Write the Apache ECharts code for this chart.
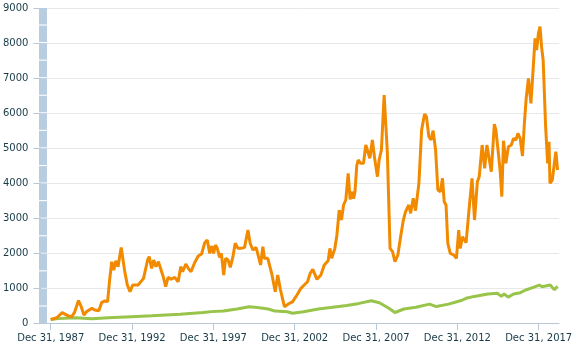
<!DOCTYPE html>
<html>
<head>
<meta charset="utf-8">
<script src="https://cdn.jsdelivr.net/npm/echarts@6/dist/echarts.min.js"></script>
<style>
  html, body { margin: 0; padding: 0; background: #fff; }
  #chart { width: 582px; height: 350px; }
</style>
</head>
<body>
<div id="chart"></div>
<script>
// Growth of 100, two series sampled at irregular dates
const orangeDates = [
  '1987-12-31','1988-05-15','1988-09-15','1989-01-15','1989-04-15','1989-06-15','1989-09-15','1989-11-15',
  '1990-01-15','1990-03-15','1990-07-15','1990-09-15','1990-12-15','1991-02-15','1991-05-01','1991-07-01',
  '1991-08-15','1991-10-01','1991-11-15','1992-01-01','1992-02-20','1992-05-01','1992-07-15','1992-09-15',
  '1992-11-15','1993-01-15','1993-05-15','1993-09-15','1993-12-15','1994-01-20','1994-03-15','1994-05-01',
  '1994-06-20','1994-08-15','1994-10-01','1994-12-01','1995-01-25','1995-03-20','1995-06-01','1995-08-15',
  '1995-11-01','1995-12-28','1996-02-10','1996-04-20','1996-06-15','1996-08-15','1996-11-05','1997-01-25',
  '1997-04-10','1997-06-20','1997-08-15','1997-10-10','1997-11-25','1998-01-05','1998-02-15','1998-03-28',
  '1998-05-20','1998-06-28','1998-08-20','1998-10-01','1998-11-25','1999-01-15','1999-03-15','1999-05-05',
  '1999-07-05','1999-09-15','1999-12-01','2000-02-15','2000-04-05','2000-06-05','2000-08-15','2000-09-10',
  '2000-11-25','2001-01-15','2001-02-20','2001-05-05','2001-08-01','2001-10-20','2001-12-15','2002-02-15',
  '2002-05-15','2002-08-10','2002-11-15','2003-02-20','2003-05-20','2003-08-01','2003-10-15','2003-12-15',
  '2004-02-10','2004-03-15','2004-05-15','2004-08-10','2004-10-25','2005-01-20','2005-02-28','2005-04-10',
  '2005-06-20','2005-08-05','2005-09-25','2005-11-15','2006-01-01','2006-02-20','2006-04-15','2006-05-28',
  '2006-07-20','2006-08-15','2006-09-15','2006-10-25','2006-11-25','2007-01-20','2007-03-25','2007-05-15',
  '2007-06-20','2007-08-15','2007-10-10','2007-11-30','2008-02-01','2008-03-10','2008-04-30','2008-06-30',
  '2008-09-10','2008-11-10','2009-01-05','2009-02-28','2009-05-05','2009-07-05','2009-09-05','2009-10-25',
  '2010-01-05','2010-02-15','2010-04-15','2010-06-05','2010-08-20','2010-10-20','2010-12-25','2011-02-05',
  '2011-04-01','2011-05-20','2011-07-05','2011-08-30','2011-10-20','2011-12-15','2012-02-01','2012-03-10',
  '2012-04-20','2012-05-30','2012-07-25','2012-10-10','2012-12-10','2013-01-30','2013-03-05','2013-04-25',
  '2013-07-15','2013-09-25','2013-11-25','2014-01-20','2014-03-25','2014-05-05','2014-07-10','2014-09-05',
  '2014-10-25','2014-12-01','2015-02-01','2015-04-10','2015-05-15','2015-07-10','2015-08-20','2015-09-25',
  '2015-11-01','2015-12-25','2016-02-20','2016-04-25','2016-06-15','2016-08-05','2016-09-20','2016-11-10',
  '2017-01-01','2017-02-10','2017-03-25','2017-05-15','2017-07-10','2017-09-01','2017-10-10','2017-11-15',
  '2017-12-25','2018-01-30','2018-03-05','2018-04-10','2018-06-05','2018-07-20','2018-08-20','2018-09-10',
  '2018-11-01','2018-12-15','2019-01-20','2019-02-28'
];
const orangeValues = [
  100,150,295,210,180,295,640,465,
  230,325,420,370,350,580,630,610,
  1230,1750,1510,1780,1610,2160,1510,1085,
  895,1085,1085,1275,1800,1895,1562,1800,
  1610,1752,1562,1323,1037,1305,1248,1305,
  1180,1610,1466,1686,1562,1466,1723,1914,
  1971,2294,2371,1990,2200,1990,2228,2133,
  1876,1990,1371,1848,1800,1590,1895,2277,
  2133,2133,2161,2657,2277,2085,2161,2037,
  1657,2180,1848,1848,1420,895,1371,943,
  466,543,609,800,990,1085,1180,1420,
  1534,1514,1248,1371,1657,1780,2133,1848,
  2133,2514,3228,2942,3371,3514,4276,3533,
  3752,3550,3752,4500,4657,4562,4562,5085,
  4943,4705,5228,4705,4180,4657,4943,6514,
  4894,2133,2037,1752,1943,2466,2942,3180,
  3371,3133,3562,3209,3991,5514,5971,5895,
  5323,5228,5495,4943,3800,3752,4134,3466,
  3371,2277,1990,1943,1848,2657,2133,2466,
  2294,3323,4134,2942,4037,4180,5085,4419,
  5085,5037,4323,5685,5514,4848,4323,3609,
  5209,4562,5037,5085,5276,5228,5419,5276,
  4771,5657,6419,6990,6276,7323,8133,7800,
  8277,8466,7895,7514,5609,4562,5180,3991,
  4085,4085,4894,4371
];

const greenDates = [
  '1987-12-31','1988-06-15','1989-07-15','1990-07-15','1991-07-15','1992-12-15','1994-03-15','1995-12-15',
  '1997-05-15','1997-11-15','1998-08-15','1999-06-15','2000-03-15','2000-09-15','2001-05-15','2001-10-15',
  '2002-07-15','2002-11-15','2003-07-15','2004-06-15','2005-03-15','2006-03-15','2006-12-15','2007-09-15',
  '2008-03-15','2008-10-15','2009-02-28','2009-09-15','2010-06-15','2011-04-15','2011-09-15','2012-06-15',
  '2013-04-15','2013-07-15','2014-01-15','2014-11-15','2015-06-15','2015-09-15','2015-11-15','2016-02-15',
  '2016-06-15','2016-11-15','2017-03-15','2017-08-15','2018-01-15','2018-03-15','2018-09-15','2018-12-20',
  '2019-02-28'
];
const greenValues = [
  100,125,150,120,150,180,205,250,
  300,325,340,400,466,440,400,340,
  320,280,323,400,440,500,560,637,
  580,420,300,400,450,540,470,540,
  650,705,760,829,848,760,829,740,
  829,866,943,1010,1085,1037,1085,950,
  1050
];

// Axis ticks
const xTickDates = ['1987-12-31','1992-12-31','1997-12-31','2002-12-31','2007-12-31','2012-12-31','2017-12-31'];
const xRange = ['1987-06-06', '2019-04-01'];
const yMin = 0, yMax = 9000, yStep = 1000;
// Segmented band beside the value axis: full scale split into 500-unit blocks
const bandStep = 500;

const ts = s => echarts.time.parse(s).getTime();
const monthNames = ['Jan','Feb','Mar','Apr','May','Jun','Jul','Aug','Sep','Oct','Nov','Dec'];
const fmtDate = v => { const d = new Date(v); return monthNames[d.getMonth()] + ' ' + d.getDate() + ', ' + d.getFullYear(); };

const pair = (dates, vals) => dates.map((d, i) => [ts(d), vals[i]]);
const tickTs = xTickDates.map(ts);

const textColor = '#173a47';
const axisColor = '#b7c9d9';
const font = 'DejaVu Sans';

const plotTop = 8, plotBottom = 27;
const bandBlocks = (yMax - yMin) / bandStep;
const blockPx = (350 - plotTop - plotBottom) / bandBlocks;

const chart = echarts.init(document.getElementById('chart'), null, { renderer: 'canvas' });
chart.setOption({
  animation: false,
  backgroundColor: '#ffffff',
  grid: [
    { left: 39, right: 23, top: plotTop, bottom: plotBottom },
    { left: 39, width: 8, top: plotTop, bottom: plotBottom }
  ],
  xAxis: [
    {
      type: 'value', gridIndex: 0,
      min: ts(xRange[0]), max: ts(xRange[1]),
      axisLine: { show: true, lineStyle: { color: axisColor, width: 1 } },
      axisTick: { show: true, length: 7, lineStyle: { color: axisColor }, customValues: tickTs },
      axisLabel: { customValues: tickTs, formatter: fmtDate, color: textColor, fontFamily: font, fontSize: 10, margin: 10 },
      splitLine: { show: false }
    },
    { type: 'category', gridIndex: 1, data: [''], show: false }
  ],
  yAxis: [
    {
      type: 'value', gridIndex: 0, min: yMin, max: yMax, interval: yStep,
      axisLine: { show: false },
      axisTick: { show: true, length: 8, lineStyle: { color: axisColor } },
      axisLabel: { color: textColor, fontFamily: font, fontSize: 10, margin: 13, formatter: v => String(v) },
      splitLine: { show: true, lineStyle: { color: '#e8e8e8', width: 1 } }
    },
    { type: 'value', gridIndex: 1, min: yMin, max: yMax, show: false }
  ],
  series: [
    {
      name: 'Band', type: 'pictorialBar', xAxisIndex: 1, yAxisIndex: 1,
      data: [yMax],
      barWidth: '100%',
      symbol: 'rect',
      symbolRepeat: bandBlocks,
      symbolSize: [8, blockPx - 1],
      symbolPosition: 'start',
      itemStyle: { color: '#b9cde0' },
      silent: true, z: 1
    },
    {
      name: 'Benchmark', type: 'line', xAxisIndex: 0, yAxisIndex: 0,
      data: pair(greenDates, greenValues),
      showSymbol: false, symbol: 'none',
      lineStyle: { color: '#98c44a', width: 3 }, z: 3
    },
    {
      name: 'Portfolio', type: 'line', xAxisIndex: 0, yAxisIndex: 0,
      data: pair(orangeDates, orangeValues),
      showSymbol: false, symbol: 'none',
      lineStyle: { color: '#f28a00', width: 3 }, z: 4
    }
  ]
});
</script>
</body>
</html>
